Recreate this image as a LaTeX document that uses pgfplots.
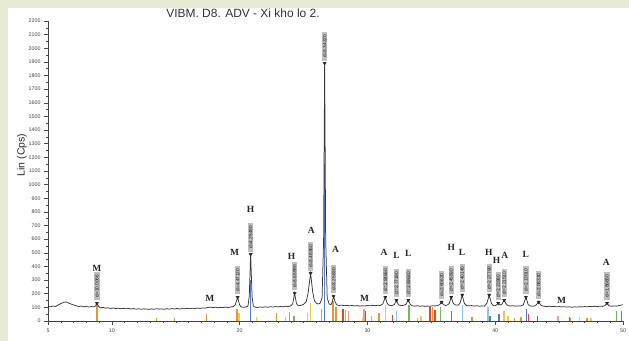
\documentclass[border=0pt]{standalone}
\usepackage{pgfplots}
\pgfplotsset{compat=1.18}
\usepackage{fontspec}
\setmainfont{Liberation Sans}
\newfontfamily\serifb{Liberation Serif}
\definecolor{bg}{HTML}{E7EAD4}
\definecolor{cOr}{HTML}{E8923A}
\definecolor{cYe}{HTML}{F2C94C}
\definecolor{cBl}{HTML}{5878C8}
\definecolor{cLb}{HTML}{8CC8E8}
\definecolor{cGr}{HTML}{78B45A}
\definecolor{cRe}{HTML}{D8482A}
\definecolor{cPk}{HTML}{E8A090}
\begin{document}
\begin{tikzpicture}
\fill[bg] (-48bp,-20bp) rectangle (581bp,321bp);
\fill[white] (-40bp,-20bp) rectangle (581bp,313bp);
\useasboundingbox (-48bp,-20bp) rectangle (581bp,321bp);
\begin{axis}[
  at={(0,0)}, anchor=south west,
  scale only axis, width=575bp, height=300bp,
  xmin=5, xmax=50, ymin=0, ymax=2200,
  axis x line*=bottom, axis y line*=left,
  axis line style={black!75, line width=0.7bp},
  xtick={5,10,20,30,40,50}, minor xtick={6,7,8,9,11,12,13,14,15,16,17,18,19,21,22,23,24,25,26,27,28,29,31,32,33,34,35,36,37,38,39,41,42,43,44,45,46,47,48,49},
  ytick={0,100,...,2200}, minor ytick={50,150,...,2150},
  tick align=outside,
  major tick length=4bp, minor tick length=2bp,
  tick style={black!70, line width=0.5bp},
  ticklabel style={font=\fontsize{5.3}{6}\selectfont, text=black!75},
  /pgf/number format/assume math mode=true,
  /pgf/number format/1000 sep={},
  clip=false,
]
% reference sticks
\addplot[ycomb, cOr, line width=1.5bp] coordinates {(8.83,130)(13.5,25)(14.9,20)(17.4,50)(19.80,85)(22.9,60)(23.9,65)(26.4,85)(27.30,150)(27.55,100)(30.9,60)(35.1,100)(38.2,30)(41.5,25)(42.0,30)(45.9,25)(47.2,20)};
\addplot[ycomb, cYe, line width=1.5bp] coordinates {(19.95,60)(21.3,30)(23.6,30)(25.3,60)(25.55,130)(29.6,25)(31.4,120)(34.2,40)(40.7,70)(41.0,40)(46.6,30)(47.5,25)};
\addplot[ycomb, cBl, line width=1.5bp] coordinates {(20.86,300)(26.65,1150)(36.56,70)(39.60,40)(40.3,50)(42.45,85)(45.8,30)(49.9,70)};
\addplot[ycomb, cLb, line width=1.5bp] coordinates {(32.27,70)(33.9,20)(37.42,115)(39.45,100)};
\addplot[ycomb, cGr, line width=1.5bp] coordinates {(24.25,35)(33.25,115)(35.7,100)(49.5,70)};
\addplot[ycomb, cRe, line width=1.5bp] coordinates {(28.1,85)(29.85,70)(31.95,45)(34.9,100)(35.3,80)(42.6,50)(43.3,35)};
\addplot[ycomb, cPk, line width=1.5bp] coordinates {(28.3,80)(28.5,75)(29.72,85)(30.3,40)(44.9,35)};
% measured pattern
\addplot[black!78, line width=0.75bp, mark=none] coordinates {
(5.0,108)(5.2,104)(5.4,110)(5.6,106)(5.8,118)(6.0,128)(6.2,136)(6.4,140)(6.6,132)(6.8,124)(7.0,118)(7.2,112)(7.4,106)(7.6,110)(7.8,104)(8.0,108)(8.2,102)(8.4,106)(8.6,104)(8.72,110)(8.83,131)(8.95,108)(9.1,96)(9.3,100)(9.5,94)(9.7,97)(9.9,92)(10.1,95)(10.3,91)(10.5,94)(10.7,90)(10.9,93)(11.1,89)(11.3,92)(11.5,88)(11.7,91)(11.9,87)(12.1,90)(12.3,86)(12.5,89)(12.7,88)(12.9,85)(13.1,89)(13.3,86)(13.5,90)(13.7,87)(13.9,89)(14.1,86)(14.3,90)(14.5,87)(14.7,91)(14.9,88)(15.1,92)(15.3,88)(15.5,91)(15.7,89)(15.9,93)(16.1,90)(16.3,94)(16.5,91)(16.7,95)(16.9,92)(17.1,96)(17.3,94)(17.5,99)(17.7,102)(17.9,98)(18.1,101)(18.3,97)(18.5,100)(18.7,98)(18.9,102)(19.1,99)(19.3,103)(19.5,106)(19.65,118)(19.84,175)(19.98,122)(20.1,104)(20.3,100)(20.5,103)(20.65,110)(20.75,180)(20.86,489)(20.97,180)(21.07,110)(21.2,102)(21.4,99)(21.6,103)(21.8,100)(22.0,104)(22.2,101)(22.4,105)(22.6,102)(22.8,106)(23.0,103)(23.2,107)(23.4,104)(23.6,108)(23.8,106)(24.0,110)(24.15,125)(24.3,204)(24.45,125)(24.6,112)(24.8,115)(25.0,122)(25.2,140)(25.35,200)(25.55,350)(25.72,210)(25.85,150)(26.0,130)(26.15,125)(26.3,130)(26.45,170)(26.57,600)(26.65,1890)(26.73,600)(26.85,170)(27.0,125)(27.15,120)(27.25,140)(27.35,182)(27.47,140)(27.6,118)(27.8,114)(28.0,116)(28.2,112)(28.4,115)(28.6,111)(28.8,114)(29.0,110)(29.2,113)(29.4,109)(29.6,112)(29.8,110)(30.0,114)(30.2,111)(30.4,115)(30.6,112)(30.8,116)(31.0,114)(31.2,125)(31.4,175)(31.55,128)(31.7,115)(31.9,113)(32.1,120)(32.27,153)(32.42,120)(32.6,112)(32.8,114)(33.0,122)(33.2,153)(33.35,122)(33.5,112)(33.7,109)(33.9,112)(34.1,108)(34.3,111)(34.5,107)(34.7,110)(34.9,108)(35.1,112)(35.3,110)(35.5,114)(35.65,120)(35.8,139)(35.95,120)(36.1,114)(36.25,117)(36.4,128)(36.56,175)(36.72,128)(36.9,118)(37.1,116)(37.25,132)(37.42,190)(37.58,130)(37.75,114)(37.95,111)(38.15,113)(38.35,109)(38.55,112)(38.75,108)(38.95,111)(39.15,109)(39.35,130)(39.53,190)(39.7,130)(39.85,113)(40.0,112)(40.1,118)(40.23,131)(40.38,118)(40.5,120)(40.58,132)(40.7,153)(40.83,128)(41.0,113)(41.2,110)(41.4,112)(41.6,109)(41.8,111)(42.0,110)(42.2,118)(42.4,175)(42.58,120)(42.75,110)(42.95,108)(43.15,113)(43.4,139)(43.6,114)(43.8,108)(44.0,106)(44.2,108)(44.4,105)(44.6,107)(44.8,104)(45.0,106)(45.2,103)(45.4,105)(45.6,102)(45.8,104)(46.0,101)(46.2,104)(46.4,102)(46.6,105)(46.8,103)(47.0,106)(47.2,104)(47.4,107)(47.6,105)(47.8,108)(48.0,106)(48.2,109)(48.4,107)(48.6,114)(48.75,131)(48.9,112)(49.1,108)(49.3,111)(49.5,109)(49.7,113)(49.85,117)(50.0,120)
};
% peak markers with d-spacing labels
\addplot[only marks, mark=triangle*, mark size=1.8bp,
  mark options={rotate=180, fill=black!85, draw=black!85},
  point meta=explicit symbolic, nodes near coords,
  every node near coord/.append style={rotate=90, anchor=west, xshift=2.5bp,
    font=\fontsize{4.8}{5}\selectfont, fill=black!25, text=black!90,
    inner xsep=3bp, inner ysep=0.9bp}]
  table[x=x, y=y, meta=lab] {
x y lab
8.83 131 d=10.0066
19.84 175 d=4.47120
20.86 489 d=4.25490
24.30 204 d=3.65990
25.55 350 d=3.48360
26.65 1890 d=3.34220
27.35 182 d=3.25830
31.40 175 d=2.84660
32.27 153 d=2.77190
33.20 153 d=2.69630
35.80 139 d=2.50620
36.56 175 d=2.45590
37.42 190 d=2.40140
39.53 190 d=2.27790
40.23 131 d=2.23980
40.70 153 d=2.21510
42.40 175 d=2.13010
43.40 139 d=2.08330
48.75 131 d=1.86650
};
% phase letters
\addplot[draw=none, mark=none, point meta=explicit symbolic, nodes near coords,
  every node near coord/.append style={anchor=center, inner sep=0pt,
    font=\serifb\bfseries\fontsize{9.5}{10}\selectfont, text=black!85}]
  table[x=x, y=y, meta=lab] {
x y lab
8.83 387 M
17.66 168 M
19.60 504 M
20.86 818 H
24.06 474 H
25.60 664 A
27.50 526 A
29.77 168 M
31.30 504 A
32.27 482 L
33.20 496 L
36.56 540 H
37.40 504 L
39.50 504 H
40.10 445 H
40.75 482 A
42.40 489 L
45.20 153 M
48.70 430 A
};
\end{axis}
\node[font=\fontsize{12}{14}\selectfont, text=black!80] at (195bp,308bp) {VIBM. D8. ADV - Xi kho lo 2.};
\node[rotate=90, font=\fontsize{10.5}{12}\selectfont, text=black!85] at (-26bp,166bp) {Lin (Cps)};
\end{tikzpicture}
\end{document}
